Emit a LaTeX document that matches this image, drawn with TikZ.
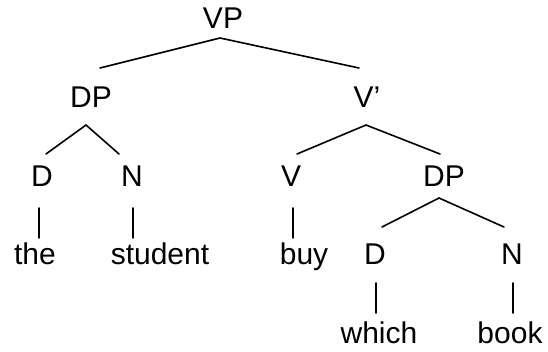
\documentclass[tikz,border=0pt]{standalone}
\usepackage{fontspec}
\setmainfont{Liberation Sans}
\usepackage{tikz}

\tikzset{
    cat/.style={font=\fontsize{30}{36}\selectfont, inner sep=0pt, anchor=base},
    branch/.style={line width=1.6pt, line cap=round}
}

\begin{document}
\begin{tikzpicture}[x=1pt, y=-1pt]
    \useasboundingbox (0,0) rectangle (548,351);

    % Categories
    \node[cat] (vp) at (223,28) {VP};
    \node[cat] (dpa) at (91,107) {DP};
    \node[cat] (vbar) at (367,107) {V’};
    \node[cat] (da) at (42,186) {D};
    \node[cat] (na) at (132,186) {N};
    \node[cat] (v) at (291,186) {V};
    \node[cat] (dpb) at (444,186) {DP};
    \node[cat] (db) at (375,264) {D};
    \node[cat] (nb) at (512,264) {N};

    % Words
    \node[cat] (the) at (35,264) {the};
    \node[cat] (student) at (160,264) {student};
    \node[cat] (buy) at (304,264) {buy};
    \node[cat] (which) at (379,343) {which};
    \node[cat] (book) at (510,343) {book};

    % Branches
    \draw[branch] ([xshift=9pt,yshift=39pt]dpa.base) -- ([xshift=-3pt,yshift=-10pt]vp.base)
        -- ([xshift=-8pt,yshift=39pt]vbar.base);
    \draw[branch] ([xshift=4pt,yshift=32pt]da.base) -- ([xshift=-5pt,yshift=-18pt]dpa.base)
        -- ([xshift=-13pt,yshift=32pt]na.base);
    \draw[branch] ([xshift=6pt,yshift=32pt]v.base) -- ([xshift=-1pt,yshift=-18pt]vbar.base)
        -- ([xshift=-4pt,yshift=32pt]dpb.base);
    \draw[branch] ([xshift=7pt,yshift=37pt]db.base) -- ([xshift=-5pt,yshift=-12pt]dpb.base)
        -- ([xshift=-8pt,yshift=37pt]nb.base);

    % Terminals
    \draw[branch] ([xshift=-3pt,yshift=-22pt]da.base) -- ([xshift=4pt,yshift=26pt]the.base);
    \draw[branch] ([xshift=1pt,yshift=-22pt]na.base) -- ([xshift=-27pt,yshift=26pt]student.base);
    \draw[branch] ([xshift=2pt,yshift=-22pt]v.base) -- ([xshift=-11pt,yshift=26pt]buy.base);
    \draw[branch] ([xshift=1pt,yshift=-19pt]db.base) -- ([xshift=-3pt,yshift=30pt]which.base);
    \draw[branch] ([xshift=1pt,yshift=-19pt]nb.base) -- ([xshift=3pt,yshift=30pt]book.base);
\end{tikzpicture}
\end{document}
